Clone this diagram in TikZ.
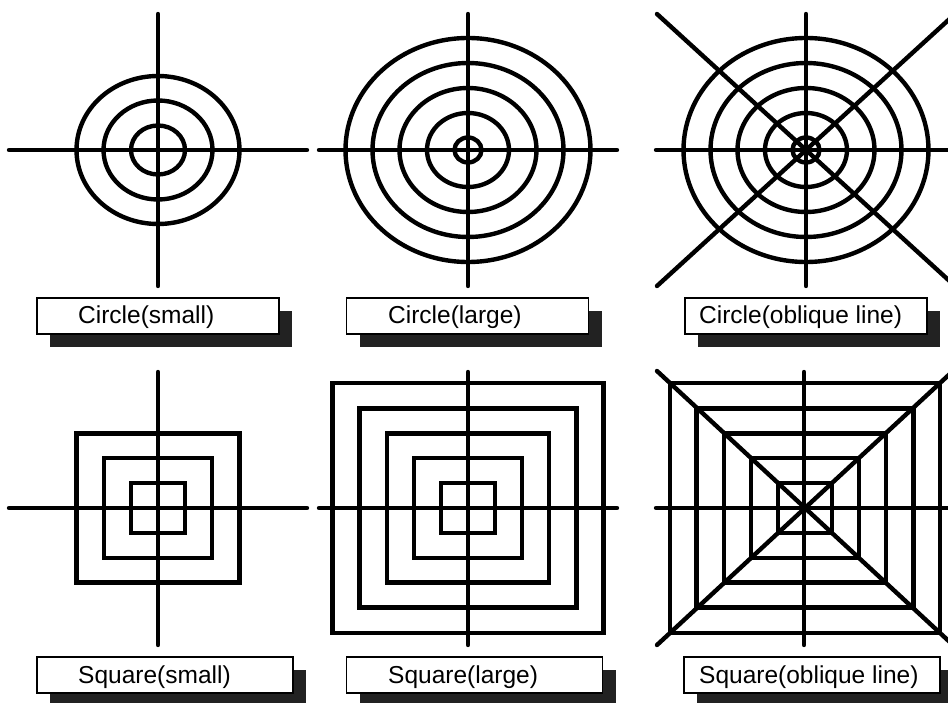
\documentclass[tikz,border=0pt]{standalone}
\usepackage{fontspec}
\setmainfont{Liberation Sans}
\usepackage{xcolor}
\usepackage{tikz}
\usetikzlibrary{shadows}
\definecolor{tgshadow}{HTML}{222222}
\tikzset{
  tgcross/.style={line width=4.4pt, line cap=round},
  tgring/.style={line width=4.4pt},
  tgsquare/.style={line width=4.4pt, line join=miter},
  tgbox/.style={
    rectangle, draw=black, fill=white, line width=1.4pt,
    minimum width=242pt, minimum height=36pt, inner sep=0pt,
    drop shadow={shadow xshift=13pt, shadow yshift=-13pt, fill=tgshadow, opacity=1}
  },
  tgboxwide/.style={tgbox, minimum width=256pt},
  tgtext/.style={font=\fontsize{24.5}{28}\selectfont, inner sep=0pt, anchor=base west}
}

\begin{document}
\begin{tikzpicture}[x=1pt,y=-1pt]
  \useasboundingbox (0,0) rectangle (948,703);
  \clip (0,0) rectangle (948,703);

  % Circle targets
  \coordinate (c1) at (158,150);
  \coordinate (c2) at (468,150);
  \coordinate (c3) at (806,150);

  \draw[tgring] (c1) ellipse [x radius=27, y radius=24.5];
  \draw[tgring] (c1) ellipse [x radius=54.5, y radius=49.5];
  \draw[tgring] (c1) ellipse [x radius=81.5, y radius=74];
  \draw[tgcross] (c1) +(-149,0) -- +(149,0);
  \draw[tgcross] (c1) +(0,-136) -- +(0,136);

  \draw[tgring] (c2) ellipse [x radius=13.5, y radius=12.5];
  \draw[tgring] (c2) ellipse [x radius=41, y radius=37];
  \draw[tgring] (c2) ellipse [x radius=68.5, y radius=62];
  \draw[tgring] (c2) ellipse [x radius=95.5, y radius=87];
  \draw[tgring] (c2) ellipse [x radius=122.5, y radius=112];
  \draw[tgcross] (c2) +(-149,0) -- +(149,0);
  \draw[tgcross] (c2) +(0,-136) -- +(0,136);

  \draw[tgring] (c3) ellipse [x radius=13.5, y radius=12.5];
  \draw[tgring] (c3) ellipse [x radius=41, y radius=37];
  \draw[tgring] (c3) ellipse [x radius=68.5, y radius=62];
  \draw[tgring] (c3) ellipse [x radius=95.5, y radius=87];
  \draw[tgring] (c3) ellipse [x radius=122.5, y radius=112];
  \draw[tgcross] (c3) +(-150,0) -- +(150,0);
  \draw[tgcross] (c3) +(0,-136) -- +(0,136);
  \draw[tgcross] (c3) +(-149,-136) -- +(149,136);
  \draw[tgcross] (c3) +(-149,136) -- +(149,-136);

  \node[tgbox] (b1) at (158,316) {};
  \node[tgtext] (t1) at (78,324) {Circle(small)};
  \node[tgbox] (b2) at (467.5,316) {};
  \node[tgtext] (t2) at (388,324) {Circle(large)};
  \node[tgbox] (b3) at (806,316) {};
  \node[tgtext] (t3) at (699,324) {Circle(oblique line)};

  % Square targets
  \coordinate (c4) at (158,508);
  \coordinate (c5) at (468,508);
  \coordinate (c6) at (805,508);

  \draw[tgsquare] (c4) +(-27,-25) rectangle +(27,25);
  \draw[tgsquare] (c4) +(-54,-50) rectangle +(54,50);
  \draw[tgsquare] (c4) +(-81.5,-74.5) rectangle +(81.5,74.5);
  \draw[tgcross] (c4) +(-149,0) -- +(149,0);
  \draw[tgcross] (c4) +(0,-136) -- +(0,137);

  \draw[tgsquare] (c5) +(-27,-25) rectangle +(27,25);
  \draw[tgsquare] (c5) +(-54,-50) rectangle +(54,50);
  \draw[tgsquare] (c5) +(-81,-74.5) rectangle +(81,74.5);
  \draw[tgsquare] (c5) +(-108.5,-99.5) rectangle +(108.5,99.5);
  \draw[tgsquare] (c5) +(-135.5,-125) rectangle +(135.5,125);
  \draw[tgcross] (c5) +(-149,0) -- +(149,0);
  \draw[tgcross] (c5) +(0,-136) -- +(0,137);

  \draw[tgsquare] (c6) +(-27,-25) rectangle +(27,25);
  \draw[tgsquare] (c6) +(-54,-50) rectangle +(54,50);
  \draw[tgsquare] (c6) +(-81,-74.5) rectangle +(81,74.5);
  \draw[tgsquare] (c6) +(-108.5,-99.5) rectangle +(108.5,99.5);
  \draw[tgsquare] (c6) +(-135,-125) rectangle +(135,125);
  \draw[tgcross] (c6) +(-149,0) -- +(151,0);
  \draw[tgcross] (c6) +(-1,-136) -- +(-1,137);
  \draw[tgcross] (c6) +(-148,-137) -- +(148,137);
  \draw[tgcross] (c6) +(-148,137) -- +(148,-137);

  \node[tgboxwide] (b4) at (165,675) {};
  \node[tgtext] (t4) at (78,683) {Square(small)};
  \node[tgboxwide] (b5) at (474.5,675) {};
  \node[tgtext] (t5) at (388,683) {Square(large)};
  \node[tgboxwide] (b6) at (812,675) {};
  \node[tgtext] (t6) at (699,683) {Square(oblique line)};
\end{tikzpicture}
\end{document}
